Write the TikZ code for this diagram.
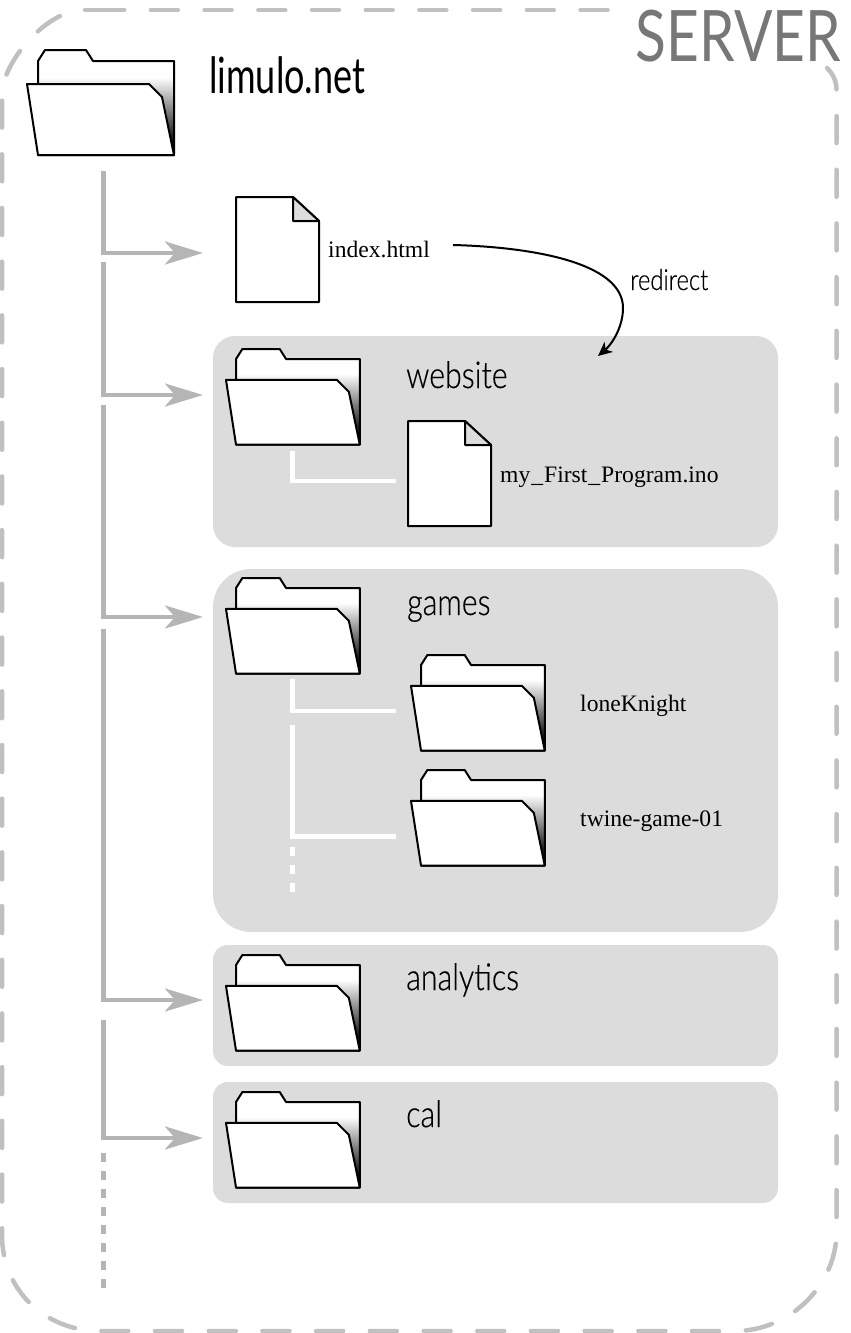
\documentclass[tikz,border=0pt]{standalone}
\usepackage{fontspec}
\setmainfont{Liberation Serif}
\newfontfamily\handfont[FakeStretch=0.82, FakeBold=0.4, UprightFont=* Light]{Lato}
\newfontfamily\titlefont[FakeStretch=0.72]{Lato}
\newfontfamily\serverfont[FakeStretch=0.8]{Lato}
\usetikzlibrary{arrows.meta}
\definecolor{trunkgray}{HTML}{B5B5B5}
\definecolor{panelgray}{HTML}{DCDCDC}
\definecolor{servergray}{HTML}{C0C0C0}
\definecolor{labelgray}{HTML}{777777}
\pgfdeclareverticalshading{foldershade}{100bp}{color(0bp)=(black); color(30bp)=(black); color(62bp)=(white); color(100bp)=(white)}
\tikzset{
  folder/.pic = {
    \path[shade, shading=foldershade]
      (11,33) -- (11,11) -- (18,0) -- (59,0) -- (66,11) -- (147,11) -- (147,105) -- (11,105) -- cycle;
    \draw[line width=2pt, line join=round]
      (11,33) -- (11,11) -- (18,0) -- (59,0) -- (66,11) -- (147,11) -- (147,105) -- (11,105) -- cycle;
    \draw[fill=white, line width=2pt, line join=round]
      (0,34) -- (122,34) -- (135,47) -- (147,105) -- (11,105) -- cycle;
  },
  docfile/.pic = {
    \draw[fill=white, line width=2pt, line join=round]
      (0,0) -- (57,0) -- (83,24) -- (83,105) -- (0,105) -- cycle;
    \draw[fill=panelgray, line width=2pt, line join=round]
      (57,0) -- (83,24) -- (57,24) -- cycle;
  }
}
\begin{document}
\begin{tikzpicture}[x=1pt, y=-1pt,
    panel/.style = {fill=panelgray, draw=none},
    tree/.style = {draw=trunkgray, line width=4.5pt},
    treearrow/.style = {tree, -{Stealth[length=38pt, width=23pt, inset=10pt]}},
    subtree/.style = {draw=white, line width=4.5pt},
    serverline/.style = {servergray, line width=4.5pt, line cap=round, dash pattern=on 27pt off 26.7pt},
    hand/.style = {font=\handfont\fontsize{37}{37}\selectfont, anchor=base west, inner sep=0pt},
    filename/.style = {font=\fontsize{23.6}{24}\selectfont, anchor=base west, inner sep=0pt}]
    \useasboundingbox (0,0) rectangle (851,1333);

    \draw[serverline] (607.5,10) -- (97,10) (85,10) -- (97,10);
    \draw[serverline, dash phase=29.7pt] (83,10) .. controls (47,10) and (2,62) .. (2,95) -- (2,1235)
        .. controls (2,1290) and (45,1331) .. (100,1331) -- (735,1331)
        .. controls (790,1331) and (836.5,1285) .. (836.5,1232) -- (836.5,90) .. controls (836.5,81) and (833,74) .. (827,68);

    \node[font=\serverfont\fontsize{71}{71}\selectfont, text=labelgray, anchor=base east, inner sep=0pt] (server) at (841,61) {SERVER};

    \fill[panel, rounded corners=22pt] (213,336) rectangle (778,547);
    \fill[panel, rounded corners=38pt] (213,569) rectangle (778,932);
    \fill[panel, rounded corners=15pt] (213,945) rectangle (778,1066);
    \fill[panel, rounded corners=15pt] (213,1082) rectangle (778,1203);

    \coordinate (rootA) at (103.5,171);
    \coordinate (rootB) at (103.5,262);
    \coordinate (rootC) at (103.5,405);
    \coordinate (rootD) at (103.5,629);
    \coordinate (rootE) at (103.5,1020);
    \coordinate (rootF) at (103.5,1153);
    \coordinate (rootEnd) at (103.5,1288);
    \coordinate (indexIn) at (203,253);
    \coordinate (websiteIn) at (203,395);
    \coordinate (gamesIn) at (203,617);
    \coordinate (analyticsIn) at (203,1000);
    \coordinate (calIn) at (203,1138);

    \path[treearrow] (rootA) |- (indexIn);
    \path[treearrow] (rootB) |- (websiteIn);
    \path[treearrow] (rootC) |- (gamesIn);
    \path[treearrow] (rootD) |- (analyticsIn);
    \path[treearrow] (rootE) |- (calIn);
    \path[tree, dash pattern=on 9pt off 9pt] (rootF) -- (rootEnd);

    \coordinate (websiteOut) at (292.5,451);
    \coordinate (inoIn) at (396,481);
    \coordinate (gamesOut) at (292.5,679);
    \coordinate (knightIn) at (396,711);
    \coordinate (gamesMid) at (292.5,725);
    \coordinate (twineIn) at (396,836.5);
    \coordinate (gamesDot) at (292.5,847);
    \coordinate (gamesEnd) at (292.5,892);

    \path[subtree] (websiteOut) |- (inoIn);
    \path[subtree] (gamesOut) |- (knightIn);
    \path[subtree] (gamesMid) |- (twineIn);
    \path[subtree, dash pattern=on 9pt off 9pt] (gamesDot) -- (gamesEnd);

    \pic at (27,50) {folder};
    \pic[scale=.91] at (226,349) {folder};
    \pic[scale=.91] at (226,578) {folder};
    \pic[scale=.91] at (411,655) {folder};
    \pic[scale=.91] at (411,770) {folder};
    \pic[scale=.91] at (226,955) {folder};
    \pic[scale=.91] at (226,1092) {folder};
    \pic at (236,197) {docfile};
    \pic at (408,421) {docfile};

    \node[hand, font=\titlefont\fontsize{50}{50}\selectfont] (limulo) at (209,93) {limulo.net};
    \node[hand] (website) at (406,388) {website};
    \node[hand] (games) at (407,615) {games};
    \node[hand] (analytics) at (406,990) {analytics};
    \node[hand] (cal) at (406,1127) {cal};
    \node[hand, font=\handfont\fontsize{29}{29}\selectfont] (redirect) at (630,290) {redirect};

    \node[filename] (index) at (328,257) {index.html};
    \node[filename] (ino) at (500,482) {my\kern1pt\_\kern1pt First\kern1pt\_\kern1pt Program.ino};
    \node[filename] (knight) at (580,711) {loneKnight};
    \node[filename] (twine) at (580,826) {twine-game-01};

    \coordinate (redirectOut) at (453,245);
    \coordinate (redirectIn) at (598,356);
    \draw[line width=2pt, -{Stealth[length=14pt, width=13pt, inset=4pt]}] (redirectOut) .. controls (530,247) and (623,262) .. (623,308) .. controls (623,328) and (611,345) .. (redirectIn);
\end{tikzpicture}
\end{document}
